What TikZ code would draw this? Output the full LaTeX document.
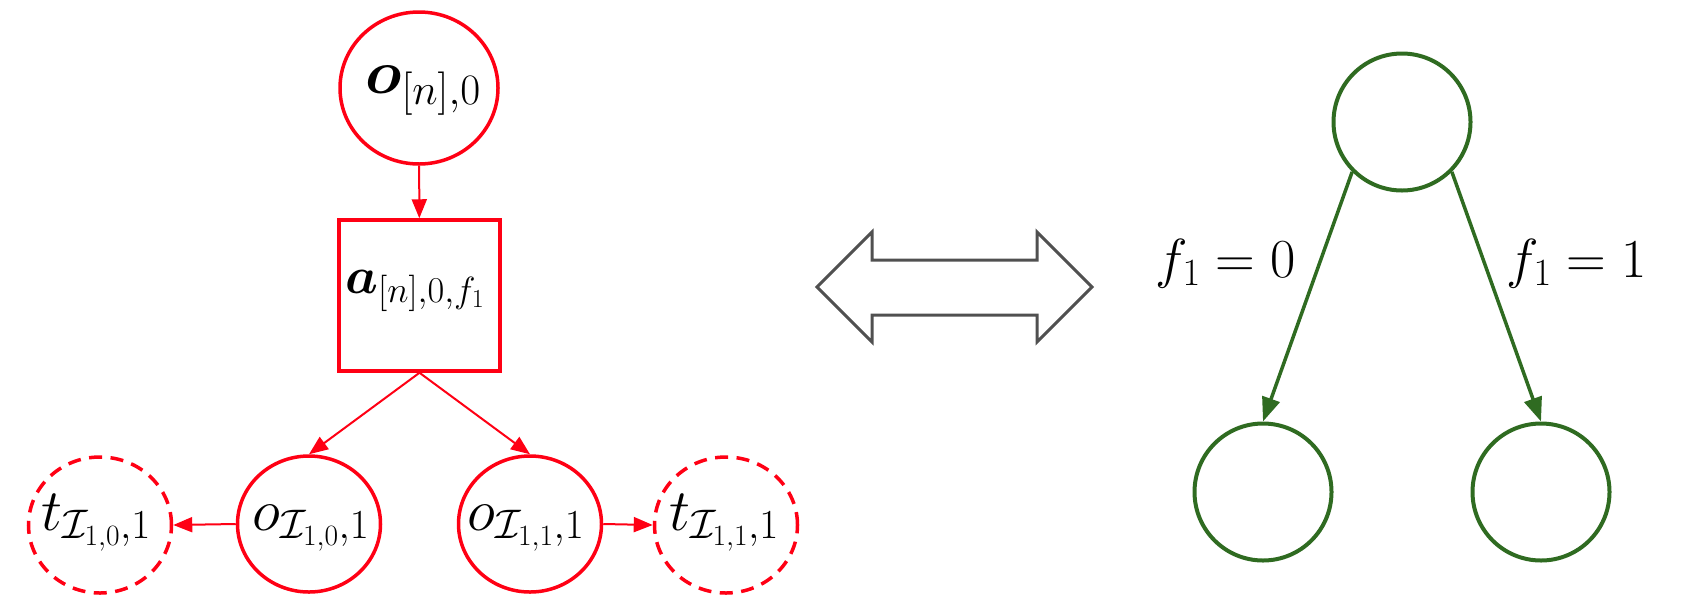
\documentclass[tikz,border=0pt]{standalone}
\usepackage{fix-cm}
\usepackage{amsmath}
\usetikzlibrary{arrows.meta,shapes.geometric}
\definecolor{myred}{RGB}{255,0,20}
\definecolor{mygreen}{RGB}{47,107,33}
\definecolor{mygray}{RGB}{80,80,80}
\begin{document}
\begin{tikzpicture}[x=1pt,y=-1pt,
  rnode/.style={ellipse, draw=myred, line width=3.5pt, inner sep=0pt, minimum width=143pt, minimum height=136pt},
  rdashnode/.style={rnode, dash pattern=on 13pt off 8.5pt},
  rbox/.style={rectangle, draw=myred, line width=3.5pt, inner sep=0pt, minimum width=161pt, minimum height=151pt},
  gnode/.style={circle, draw=mygreen, line width=4pt, inner sep=0pt, minimum size=137pt},
  rarrow/.style={draw=myred, line width=2pt, -{Triangle[length=19pt,width=15pt]}},
  garrow/.style={draw=mygreen, line width=3.5pt, -{Triangle[length=24pt,width=18pt]}},
  txt/.style={inner sep=0pt, anchor=base},
  toptxt/.style={txt, font=\fontsize{62}{70}\selectfont},
  acttxt/.style={txt, font=\fontsize{52}{60}\selectfont},
  bottxt/.style={txt, font=\fontsize{59}{66}\selectfont},
  lbltxt/.style={txt, font=\fontsize{55}{64}\selectfont},
  dblarrow/.style={draw=mygray, line width=3pt, line join=miter}
]
\useasboundingbox (0,0) rectangle (1688,614);
% left tree
\node[rnode, minimum width=158pt, minimum height=152pt] (top) at (419,88) {};
\node[toptxt] (topt) at (423,93) {$\boldsymbol{o}_{[n],0}$};
\node[rbox] (act) at (419.5,295.5) {};
\node[acttxt] (actt) at (415,293) {$\boldsymbol{a}_{[n],0,f_1}$};
\node[rnode] (oL) at (309,524) {};
\node[bottxt] (oLt) at (311,530) {$o_{\mathcal{I}_{1,0},1}$};
\node[rnode] (oR) at (530,524) {};
\node[bottxt] (oRt) at (526,530) {$o_{\mathcal{I}_{1,1},1}$};
\node[rdashnode] (tL) at (100,525) {};
\node[bottxt] (tLt) at (96,530) {$t_{\mathcal{I}_{1,0},1}$};
\node[rdashnode] (tR) at (726,525) {};
\node[bottxt] (tRt) at (724,530) {$t_{\mathcal{I}_{1,1},1}$};
\draw[rarrow] (top) -- (act);
\draw[rarrow] (act.south) -- (oL.north);
\draw[rarrow] (act.south) -- (oR.north);
\draw[rarrow] (oL.west) -- (tL.east);
\draw[rarrow] (oR.east) -- (tR.west);
% double arrow
\draw[dblarrow] (817,287) -- (872,232) -- (872,260) -- (1037,260) -- (1037,232) -- (1092,287)
  -- (1037,342) -- (1037,315) -- (872,315) -- (872,342) -- cycle;
% right tree
\node[gnode] (g0) at (1402,122) {};
\node[gnode] (g1) at (1263,492) {};
\node[gnode] (g2) at (1541,492) {};
\draw[garrow] (g0.south west) -- (g1.north);
\draw[garrow] (g0.south east) -- (g2.north);
\node[lbltxt] (l0) at (1226,277) {$f_1 = 0$};
\node[lbltxt] (l1) at (1577,277) {$f_1 = 1$};
\end{tikzpicture}
\end{document}
